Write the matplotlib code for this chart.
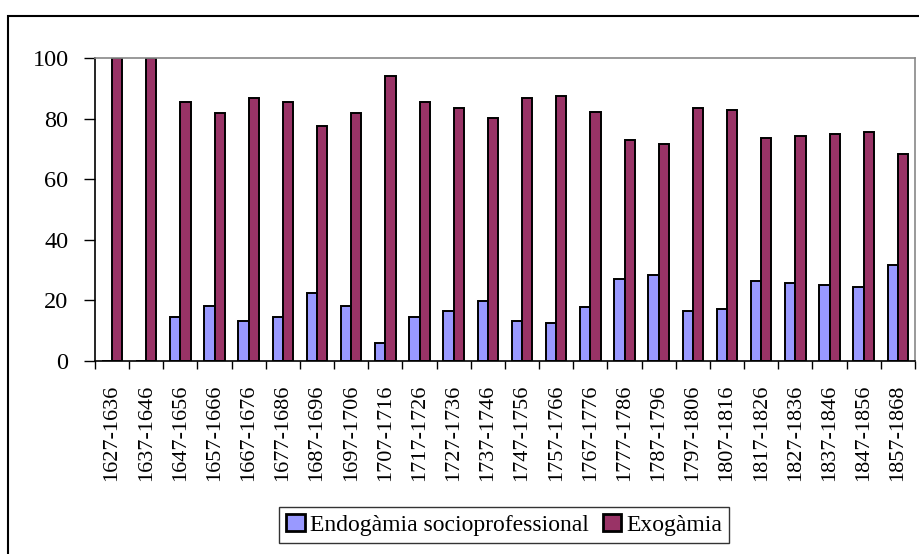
import numpy as np
from matplotlib import pyplot as plt
from matplotlib.patches import Rectangle

plt.rcParams["font.family"] = ["Liberation Serif", "DejaVu Serif"]

periods = ["1627-1636", "1637-1646", "1647-1656", "1657-1666", "1667-1676",
           "1677-1686", "1687-1696", "1697-1706", "1707-1716", "1717-1726",
           "1727-1736", "1737-1746", "1747-1756", "1757-1766", "1767-1776",
           "1777-1786", "1787-1796", "1797-1806", "1807-1816", "1817-1826",
           "1827-1836", "1837-1846", "1847-1856", "1857-1868"]
endogamia = [0, 0, 14.6, 18.1, 13.2, 14.6, 22.5, 18.1, 6.1, 14.6, 16.5, 19.8,
             13.2, 12.7, 17.9, 27.2, 28.4, 16.5, 17.2, 26.5, 25.8, 25.1, 24.5, 31.8]
exogamia = [100, 100, 85.4, 81.9, 86.8, 85.4, 77.5, 81.9, 93.9, 85.4, 83.5, 80.2,
            86.8, 87.3, 82.1, 72.8, 71.6, 83.5, 82.8, 73.5, 74.2, 74.9, 75.5, 68.2]

fig = plt.figure(figsize=(9.2, 5.54), dpi=100)
ax = fig.add_axes([95 / 920, 1 - 361 / 554, 820 / 920, 303 / 554])

x = np.arange(len(periods))
w = 0.3
ax.bar(x - w / 2, endogamia, w, color="#9999FF", edgecolor="black", linewidth=1.4,
       label="Endogàmia socioprofessional")
ax.bar(x + w / 2, exogamia, w, color="#993366", edgecolor="black", linewidth=1.4,
       label="Exogàmia")

ax.set_xlim(-0.5, len(periods) - 0.5)
ax.set_ylim(0, 100)
ax.set_yticks([0, 20, 40, 60, 80, 100])
ax.tick_params(axis="y", labelsize=17.5, length=8, width=1, pad=11, direction="out")

ax.set_xticks(x)
ax.set_xticklabels(periods, rotation=90, fontsize=16)
ax.set_xticks(np.arange(-0.5, len(periods)), minor=True)
ax.tick_params(axis="x", which="major", length=0, pad=17)
ax.tick_params(axis="x", which="minor", length=6, width=1, direction="out")

for s in ["top", "right"]:
    ax.spines[s].set_color("#888888")
    ax.spines[s].set_linewidth(1.2)
for s in ["left", "bottom"]:
    ax.spines[s].set_color("black")
    ax.spines[s].set_linewidth(1.2)

# outer chart border (cut off at right and bottom)
fig.patches.append(Rectangle((8 / 920, -0.1), 1.2, 1 - 16 / 554 + 0.1,
                             transform=fig.transFigure, fill=False,
                             edgecolor="black", linewidth=1.5))

leg = fig.legend(loc="upper center", bbox_to_anchor=(504 / 920, 1 - 507 / 554), ncol=2,
                 fontsize=17, frameon=True, fancybox=False, handlelength=0.8,
                 handleheight=0.75, handletextpad=0.2, columnspacing=0.6,
                 borderpad=0.3, borderaxespad=0)
leg.get_frame().set_edgecolor("black")
leg.get_frame().set_linewidth(1)
for h in leg.legend_handles:
    h.set_linewidth(2)

plt.savefig("out.png", dpi=100)
